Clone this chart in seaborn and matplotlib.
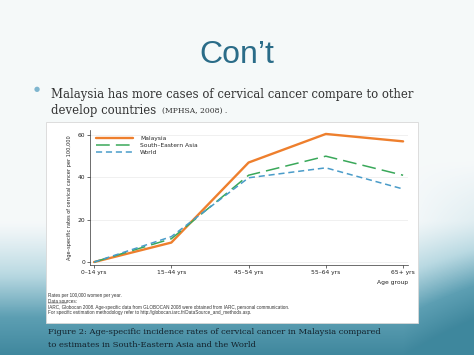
import numpy as np
import pandas as pd
import seaborn as sns
import matplotlib.pyplot as plt
from matplotlib.colors import LinearSegmentedColormap

# Data (rates per 100,000)
age_groups = ["0\u201314 yrs", "15\u201344 yrs", "45\u201354 yrs", "55\u201364 yrs", "65+ yrs"]
malaysia = [0, 9.2, 47, 60.5, 57]
se_asia = [0, 11, 41, 50, 41]
world = [0, 12, 39.8, 44.5, 34.5]
series_names = ["Malaysia", "South\u2013Eastern Asia", "World"]
y_ticks = [0, 20, 40, 60]

df = pd.DataFrame({
    "age": age_groups * 3,
    "rate": malaysia + se_asia + world,
    "region": [s for s in series_names for _ in age_groups],
})

sns.set_style("white")
fig = plt.figure(figsize=(4.74, 3.55), dpi=100)

# slide background: light top, teal band at the bottom
bg = fig.add_axes([0, 0, 1, 1])
h, w = 355, 474
yy, xx = np.mgrid[0:h, 0:w] / np.array([h, w])[:, None, None]
t = np.clip((yy - 0.62) / 0.38, 0, 1) ** 1.2 + 0.35 * np.clip((xx - 0.85) / 0.15, 0, 1) * np.clip((yy - 0.45) / 0.5, 0, 1)
t = np.clip(t, 0, 1)
cmap = LinearSegmentedColormap.from_list("slide", ["#f6f9fa", "#b9d9e2", "#5d9fb3", "#3f879d"])
bg.imshow(t, cmap=cmap, aspect="auto", extent=[0, 1, 0, 1], vmin=0, vmax=1)
# white figure panel
bg.add_patch(plt.Rectangle((0.097, 0.09), 0.785, 0.565, facecolor="white",
                           edgecolor="#d8d8d8", linewidth=0.6))
bg.set_xlim(0, 1)
bg.set_ylim(0, 1)
bg.set_axis_off()

# slide title and bullet
fig.text(0.5, 0.845, "Con\u2019t", ha="center", va="center", fontsize=23,
         color="#2a6c88", family="Liberation Sans")
fig.text(0.078, 0.748, "\u25cf", ha="center", va="center", fontsize=5, color="#7fb6cf")
fig.text(0.108, 0.735, "Malaysia has more cases of cervical cancer compare to other",
         ha="left", va="center", fontsize=8.4, color="#333333", family="DejaVu Serif")
fig.text(0.108, 0.69, "develop countries", ha="left", va="center", fontsize=8.4,
         color="#333333", family="DejaVu Serif")
fig.text(0.342, 0.687, "(MPHSA, 2008) .", ha="left", va="center", fontsize=5.5,
         color="#333333", family="DejaVu Serif")

ax = fig.add_axes([0.19, 0.2535, 0.671, 0.3805])
palette = {"Malaysia": "#ee7f2d", "South\u2013Eastern Asia": "#3aa85a", "World": "#4a9cc9"}
dashes = {"Malaysia": "", "South\u2013Eastern Asia": (9, 4), "World": (4, 2.5)}
sns.lineplot(data=df, x="age", y="rate", hue="region", style="region",
             palette=palette, dashes=dashes, ax=ax, legend=False, linewidth=1.3)
for line, lw in zip(ax.lines, [1.7, 1.1, 1.1]):
    line.set_linewidth(lw)

ax.set_xlim(-0.052, 4.065)
ax.set_ylim(-1.4, 62.4)
ax.set_yticks(y_ticks)
ax.set_yticklabels([str(v) for v in y_ticks])
ax.set_xticks(range(len(age_groups)))
ax.set_xticklabels(age_groups)
ax.tick_params(axis="both", labelsize=4.3, length=2, width=0.5, color="#333333",
               pad=1.5, direction="out", bottom=True, left=True, labelcolor="#222222")
ax.yaxis.grid(True, color="#eaeaea", linewidth=0.5)
ax.xaxis.grid(False)
for side in ["top", "right"]:
    ax.spines[side].set_visible(False)
for side in ["left", "bottom"]:
    ax.spines[side].set_linewidth(0.5)
    ax.spines[side].set_color("#333333")
ax.set_xlabel("")
ax.set_ylabel("Age\u2013specific rates of cervical cancer per 100,000", fontsize=3.6,
              color="#222222", labelpad=4)
fig.text(0.86, 0.205, "Age group", ha="right", va="center", fontsize=4.3, color="#222222")
ax.legend(ax.lines, series_names, loc="upper left", bbox_to_anchor=(0.0, 1.0),
          frameon=False, fontsize=4.3, handlelength=6.2, labelspacing=0.3,
          borderaxespad=0.6, handletextpad=1.2)

# source notes
notes = ["Rates per 100,000 women per year.",
         "Data sources:",
         "IARC, Globocan 2008. Age-specific data from GLOBOCAN 2008 were obtained from IARC, personal communication.",
         "For specific estimation methodology refer to http://globocan.iarc.fr/DataSource_and_methods.asp."]
for i, n in enumerate(notes):
    fig.text(0.102, 0.168 - i * 0.0165, n, ha="left", va="center", fontsize=3.3,
             color="#333333", family="Liberation Sans")
fig.lines.append(plt.Line2D([0.102, 0.142], [0.146, 0.146], transform=fig.transFigure,
                            color="#333333", linewidth=0.3))

# caption
fig.text(0.102, 0.064, "Figure 2: Age-specific incidence rates of cervical cancer in Malaysia compared",
         ha="left", va="center", fontsize=6.0, color="#13222c", family="DejaVu Serif")
fig.text(0.102, 0.028, "to estimates in South-Eastern Asia and the World",
         ha="left", va="center", fontsize=6.0, color="#13222c", family="DejaVu Serif")

fig.savefig("out.png", dpi=100)
